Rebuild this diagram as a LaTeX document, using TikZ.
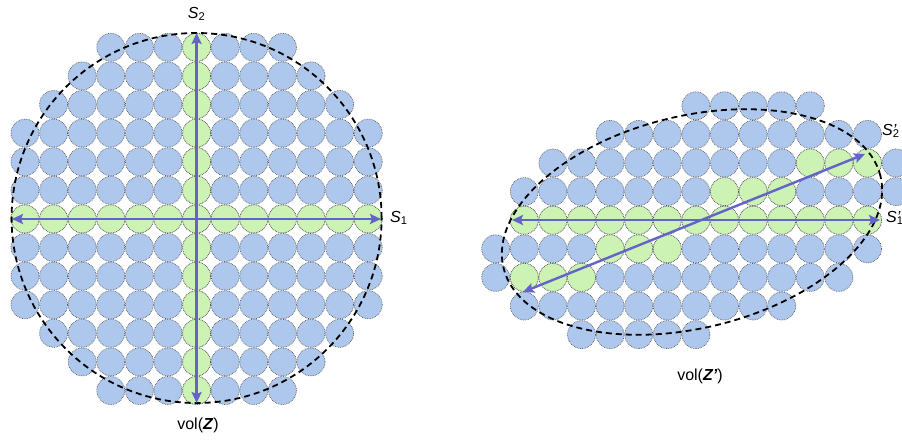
\documentclass[tikz,border=0pt]{standalone}
\usepackage{fontspec}
\setmainfont{Liberation Sans}
\usetikzlibrary{arrows.meta,positioning}

\definecolor{cellblue}{HTML}{AEC7EC}
\definecolor{cellgreen}{HTML}{CCF2B4}
\definecolor{axisblue}{HTML}{6464C8}

\begin{document}
\begin{tikzpicture}[x=1pt,y=-1pt,
  cell/.style={draw=gray!70!black, densely dotted, line width=0.7pt, fill=cellblue},
  hit/.style={cell, fill=cellgreen},
  hull/.style={draw=black, dash pattern=on 6pt off 4pt, line width=1.8pt},
  axisline/.style={draw=axisblue, line width=2.4pt, {Stealth[length=11pt,width=10pt,inset=2pt]}-{Stealth[length=11pt,width=10pt,inset=2pt]}},
  lbl/.style={font=\fontsize{16}{19}\selectfont, inner sep=0pt}]
\useasboundingbox (0,0) rectangle (902,440);

\foreach \r/\a/\b in {0/3/9,1/2/10,2/1/11,3/0/12,4/0/12,5/0/12,6/0/12,7/0/12,8/0/12,9/0/12,10/1/11,11/2/10,12/3/9}
  \foreach \c in {\a,...,\b}
    \draw[cell] (25+28.6*\c, 47.3+28.6*\r) circle (14pt);
\foreach \i in {0,...,12} {
  \draw[hit] (25+28.6*6, 47.3+28.6*\i) circle (14pt);
  \draw[hit] (25+28.6*\i, 47.3+28.6*6) circle (14pt);
}
\draw[hull] (196.6,218) circle (185pt);

\coordinate (s2top) at (196.6,33);
\coordinate (s2bot) at (196.6,403);
\coordinate (s1left) at (12,219);
\coordinate (s1right) at (381,219);
\draw[axisline] (s2bot) -- (s2top);
\draw[axisline] (s1left) -- (s1right);
\node[lbl] (s2lab) at (196.6,14) {\textit{S}\textsubscript{2}};
\node[lbl, anchor=west] (s1lab) at (390,218) {\textit{S}\textsubscript{1}};
\node[lbl] (vollab) at (198,425) {vol(\textbf{\textit{Z}})};

\foreach \r/\a/\b in {0/7/11,1/4/13,2/2/14,3/1/14,4/1/13,5/0/13,6/0/12,7/1/10,8/3/7}
  \foreach \c in {\a,...,\b}
    \draw[cell] (495.7+28.6*\c, 105.8+28.6*\r) circle (14pt);
\foreach \c in {1,...,13}
  \draw[hit] (495.7+28.6*\c, 105.8+28.6*4) circle (14pt);
\foreach \r/\c in {2/11,2/12,2/13,3/8,3/9,3/10,5/4,5/5,5/6,6/1,6/2,6/3}
  \draw[hit] (495.7+28.6*\c, 105.8+28.6*\r) circle (14pt);
\draw[hull, rotate around={13.7:(692,222)}] (692,222) ellipse [x radius=194pt, y radius=106pt];

\coordinate (t1left) at (512,220);
\coordinate (t1right) at (880,220);
\coordinate (t2low) at (523,292);
\coordinate (t2high) at (865,154);
\draw[axisline] (t1left) -- (t1right);
\draw[axisline] (t2low) -- (t2high);
\node[lbl, anchor=west] (t2lab) at (882,131) {\textit{S}\rlap{\textit{'}}\textsubscript{2}};
\node[lbl, anchor=west] (t1lab) at (886,218) {\textit{S}\rlap{\textit{'}}\textsubscript{1}};
\node[lbl] (volzlab) at (700,376) {vol(\textbf{\textit{Z'}})};
\end{tikzpicture}
\end{document}
